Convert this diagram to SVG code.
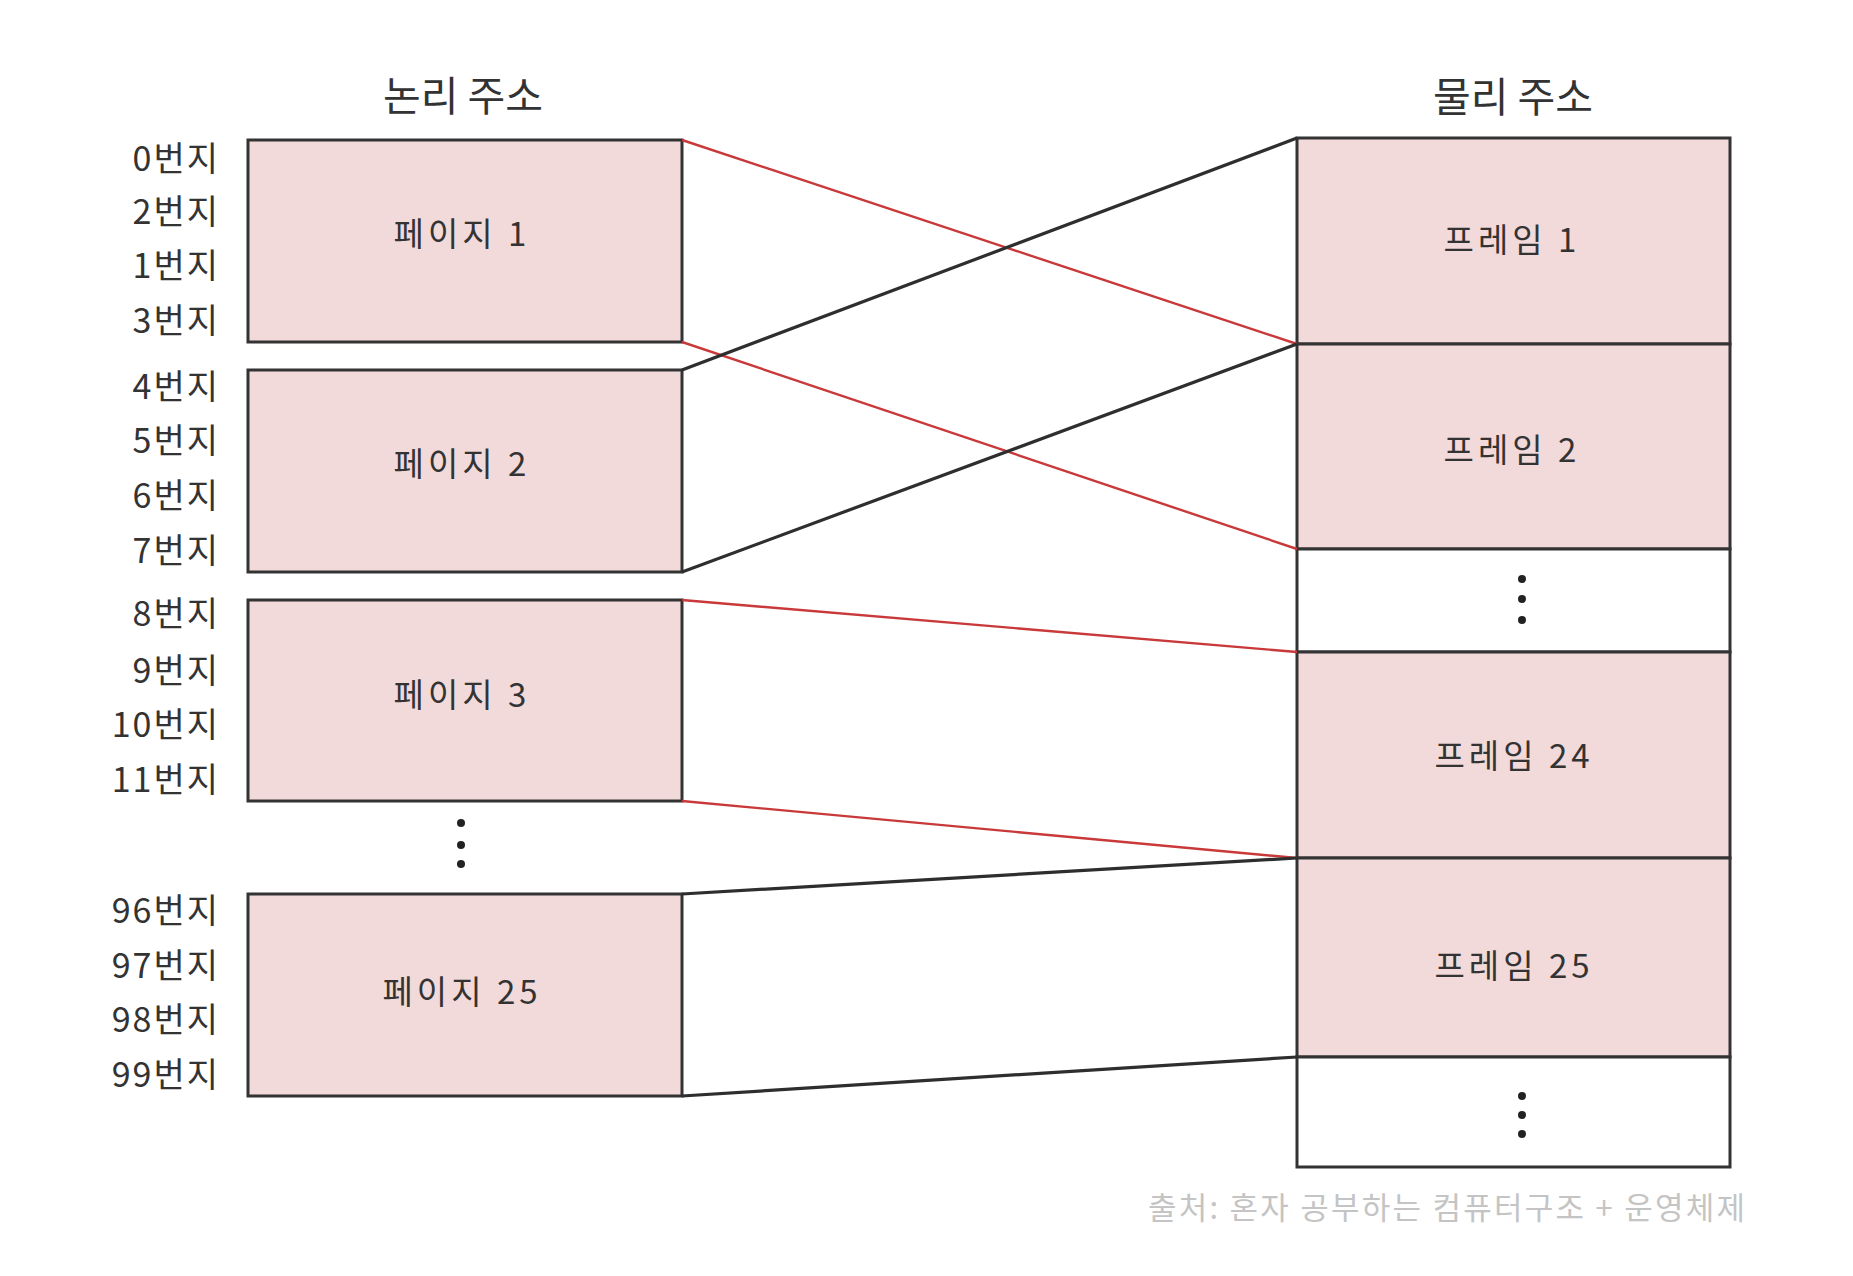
<svg xmlns="http://www.w3.org/2000/svg" width="1853" height="1276" viewBox="0 0 1853 1276">
<style>
text{font-family:"Noto Sans CJK KR","Noto Sans",sans-serif;fill:#333}
.title{font-size:41px;text-anchor:middle}
.addr{font-size:34px;text-anchor:end;letter-spacing:2px}
.lbl{font-size:33px;text-anchor:middle;letter-spacing:4px}
.box{fill:#f2d9da;stroke:#333;stroke-width:3}
.empty{fill:#fff;stroke:#333;stroke-width:3}
.red{stroke:#c9393a;stroke-width:2.4;fill:none}
.blk{stroke:#2e2e2e;stroke-width:3.2;fill:none}
.dot{fill:#222}
.cap{font-size:31px;fill:#c4c4c4}
</style>
<rect width="1853" height="1276" fill="#fff"/>
<text class="title" x="463" y="111">논리 주소</text>
<text class="title" x="1513" y="112">물리 주소</text>
<g id="addresses">
<text class="addr" x="220" y="171">0번지</text>
<text class="addr" x="220" y="224">2번지</text>
<text class="addr" x="220" y="278">1번지</text>
<text class="addr" x="220" y="333">3번지</text>
<text class="addr" x="220" y="399">4번지</text>
<text class="addr" x="220" y="453">5번지</text>
<text class="addr" x="220" y="508">6번지</text>
<text class="addr" x="220" y="563">7번지</text>
<text class="addr" x="220" y="626">8번지</text>
<text class="addr" x="220" y="683">9번지</text>
<text class="addr" x="220" y="737">10번지</text>
<text class="addr" x="220" y="792">11번지</text>
<text class="addr" x="220" y="923">96번지</text>
<text class="addr" x="220" y="978">97번지</text>
<text class="addr" x="220" y="1032">98번지</text>
<text class="addr" x="220" y="1087">99번지</text>
</g>
<g id="page1"><rect class="box" x="248" y="140" width="434" height="202"/><text class="lbl" x="462" y="246">페이지 1</text></g>
<g id="page2"><rect class="box" x="248" y="370" width="434" height="202"/><text class="lbl" x="462" y="476">페이지 2</text></g>
<g id="page3"><rect class="box" x="248" y="600" width="434" height="201"/><text class="lbl" x="462" y="707">페이지 3</text></g>
<g id="page-dots"><circle class="dot" cx="461" cy="823" r="4"/><circle class="dot" cx="461" cy="845" r="4"/><circle class="dot" cx="461" cy="864" r="4"/></g>
<g id="page25"><rect class="box" x="248" y="894" width="434" height="202"/><text class="lbl" x="462" y="1004">페이지 25</text></g>
<g id="frame1"><rect class="box" x="1297" y="138" width="433" height="206"/><text class="lbl" x="1512" y="252">프레임 1</text></g>
<g id="frame2"><rect class="box" x="1297" y="344" width="433" height="205"/><text class="lbl" x="1512" y="462">프레임 2</text></g>
<g id="frame-gap1"><rect class="empty" x="1297" y="549" width="433" height="103"/><circle class="dot" cx="1522" cy="579" r="4"/><circle class="dot" cx="1522" cy="599" r="4"/><circle class="dot" cx="1522" cy="620" r="4"/></g>
<g id="frame24"><rect class="box" x="1297" y="652" width="433" height="206"/><text class="lbl" x="1514" y="768">프레임 24</text></g>
<g id="frame25"><rect class="box" x="1297" y="858" width="433" height="199"/><text class="lbl" x="1514" y="978">프레임 25</text></g>
<g id="frame-gap2"><rect class="empty" x="1297" y="1057" width="433" height="110"/><circle class="dot" cx="1522" cy="1096" r="4"/><circle class="dot" cx="1522" cy="1115" r="4"/><circle class="dot" cx="1522" cy="1134" r="4"/></g>
<g id="connectors">
<line class="red" x1="682" y1="140" x2="1297" y2="344"/>
<line class="red" x1="682" y1="342" x2="1297" y2="549"/>
<line class="blk" x1="682" y1="370" x2="1297" y2="138"/>
<line class="blk" x1="682" y1="572" x2="1297" y2="344"/>
<line class="red" x1="682" y1="600" x2="1297" y2="652"/>
<line class="red" x1="682" y1="801" x2="1297" y2="858"/>
<line class="blk" x1="682" y1="894" x2="1297" y2="858"/>
<line class="blk" x1="682" y1="1096" x2="1297" y2="1057"/>
</g>
<text class="cap" x="1148" y="1219" textLength="597" lengthAdjust="spacing">출처: 혼자 공부하는 컴퓨터구조 + 운영체제</text>
</svg>
